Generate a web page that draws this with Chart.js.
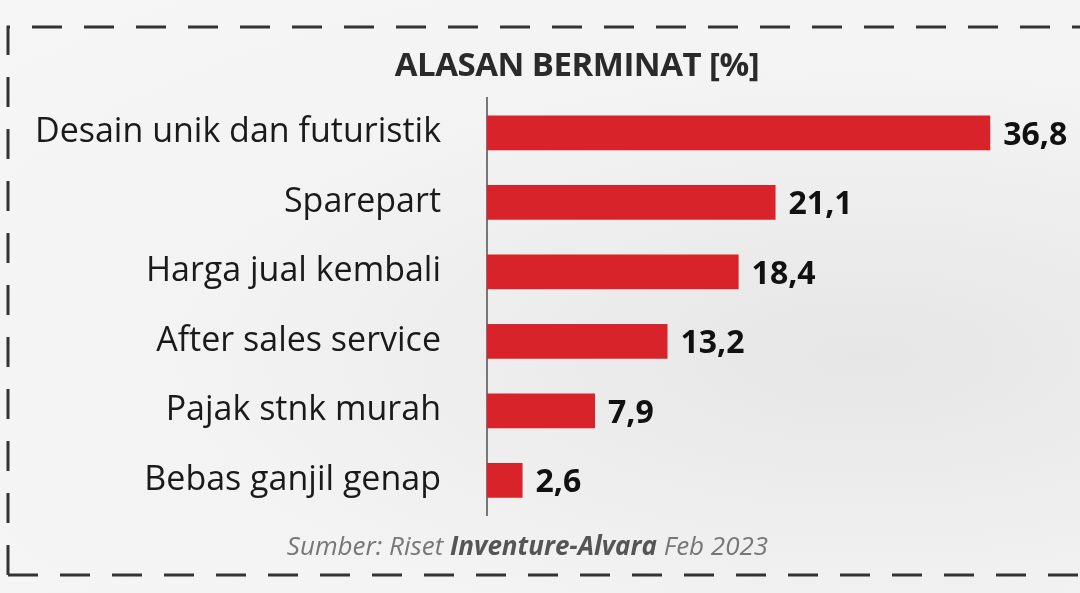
<!DOCTYPE html>
<html>
<head>
<meta charset="utf-8">
<script src="https://cdn.jsdelivr.net/npm/chart.js@4"></script>
<style>
  html, body { margin: 0; padding: 0; }
  body { width: 1080px; height: 593px; position: relative; overflow: hidden;
         background: radial-gradient(ellipse at 80% 60%, #e6e6e6 0%, #f3f3f3 55%, #f6f6f6 100%);
         font-family: "Open Sans", sans-serif; }
  #wrap { position: absolute; left: 0; top: 0; width: 1080px; height: 593px; }
  #title { position: absolute; top: 41px; left: 0; width: 1154px; text-align: center;
           font-size: 33px; font-weight: 700; color: #2a2a2a; letter-spacing: -0.5px; }
  #source { position: absolute; top: 527px; left: 0; width: 1055px; text-align: center;
            font-size: 26px; font-style: italic; color: #777; }
  #source b { color: #555; }
</style>
</head>
<body>
<div id="wrap"><canvas id="chart"></canvas></div>
<div id="title">ALASAN BERMINAT [%]</div>
<div id="source">Sumber: Riset <b>Inventure-Alvara</b> Feb 2023</div>
<script>
// data
const categories = ["Desain unik dan futuristik", "Sparepart", "Harga jual kembali",
                    "After sales service", "Pajak stnk murah", "Bebas ganjil genap"];
const values = [36.8, 21.1, 18.4, 13.2, 7.9, 2.6];
const valueLabels = ["36,8", "21,1", "18,4", "13,2", "7,9", "2,6"];

// dashed frame + value labels
const extras = {
    id: "extras",
    beforeDraw(chart) {
        const ctx = chart.ctx;
        ctx.save();
        ctx.strokeStyle = "#333";
        ctx.lineWidth = 3;
        ctx.setLineDash([30, 22]);
        ctx.beginPath();
        ctx.moveTo(8, 575); ctx.lineTo(8, 27); ctx.lineTo(1080, 27);
        ctx.moveTo(8, 575); ctx.lineTo(1080, 575);
        ctx.stroke();
        ctx.restore();
    },
    afterDatasetsDraw(chart) {
        const ctx = chart.ctx;
        const meta = chart.getDatasetMeta(0);
        ctx.save();
        ctx.font = "bold 32px 'Open Sans'";
        ctx.fillStyle = "#111";
        ctx.textBaseline = "middle";
        meta.data.forEach((bar, i) => {
            ctx.fillText(valueLabels[i], bar.x + 13, bar.y + 3);
        });
        ctx.restore();
    }
};

new Chart(document.getElementById("chart"), {
    type: "bar",
    data: {
        labels: categories,
        datasets: [{
            data: values,
            backgroundColor: "#d9232a",
            barPercentage: 0.5,
            categoryPercentage: 1
        }]
    },
    options: {
        indexAxis: "y",
        responsive: true,
        maintainAspectRatio: false,
        animation: false,
        layout: { padding: { left: 0, right: 46, top: 98, bottom: 78 } },
        plugins: { legend: { display: false }, tooltip: { enabled: false } },
        scales: {
            x: { display: false, min: 0, max: 40 },
            y: {
                grid: { display: false },
                border: { display: true, color: "#777", width: 2 },
                ticks: { color: "#1a1a1a", font: { size: 34, family: "Open Sans" }, padding: 38 },
                afterFit(scale) { scale.width = 487; }
            }
        }
    },
    plugins: [extras]
});
</script>
</body>
</html>
